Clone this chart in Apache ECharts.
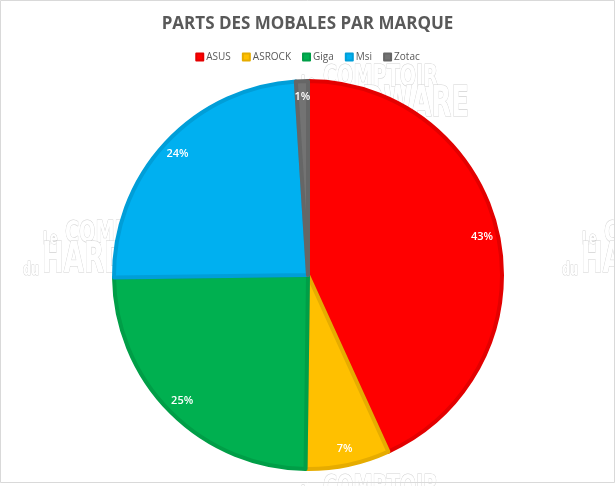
<!DOCTYPE html>
<html>
<head>
<meta charset="utf-8">
<script src="https://cdn.jsdelivr.net/npm/echarts@6/dist/echarts.min.js"></script>
<style>
html,body{margin:0;padding:0;background:#fff;}
#chart{width:615px;height:486px;}
</style>
</head>
<body>
<div id="chart"></div>
<script>
var titleText = 'PARTS DES MOBALES PAR MARQUE';
var categories = ['ASUS', 'ASROCK', 'Giga', 'Msi', 'Zotac'];
var shares = [43.2, 7.0, 24.6, 24.2, 1.0];
var fillColors = ['#FF0000', '#FFC000', '#00B050', '#00B0F0', '#737373'];
var borderColors = ['#E30000', '#E6AC00', '#009E47', '#009ED8', '#666666'];

var chart = echarts.init(document.getElementById('chart'), null, {renderer: 'canvas'});

var pieData = categories.map(function (c, i) {
  return {name: c, value: shares[i], itemStyle: {color: fillColors[i], borderColor: borderColors[i]}};
});
var labelData = categories.map(function (c, i) {
  return {name: c, value: shares[i]};
});

var wmFont = 'DejaVu Sans, sans-serif';
function wm(dx, dy) {
  var st = {fill: '#ffffff', stroke: '#d2d2d2', lineWidth: 1.1};
  function t(txt, x, y, size) {
    return {type: 'text', z: -5, x: dx + x, y: dy + y, scaleX: 0.62,
      style: Object.assign({text: txt, font: 'bold ' + size + 'px ' + wmFont, verticalAlign: 'top'}, st)};
  }
  return [
    t('Le', 43, 230, 18),
    t('COMPTOIR', 65, 218, 31),
    t('du', 23, 261, 18),
    t('HARDWARE', 42, 240, 42)
  ];
}
var graphics = [].concat(wm(0, 0), wm(539, 0), wm(258, -156), wm(258, 254));
graphics.push({type: 'rect', z: 10, shape: {x: 0.5, y: 0.5, width: 614, height: 482}, style: {fill: 'none', stroke: '#d9d9d9', lineWidth: 1}});

chart.setOption({
  animation: false,
  backgroundColor: '#ffffff',
  title: {
    text: titleText,
    left: 'center',
    top: 11,
    textStyle: {fontFamily: 'Open Sans', fontWeight: 'bold', fontSize: 17, color: '#595959'}
  },
  legend: {
    data: categories,
    top: 47,
    left: 'center',
    icon: 'rect',
    itemWidth: 7,
    itemHeight: 7,
    itemGap: 11,
    textStyle: {fontFamily: 'Open Sans', fontSize: 10, color: '#595959', padding: [0, 0, 0, -2]}
  },
  graphic: graphics,
  series: [
    {
      type: 'pie',
      center: [308, 275],
      radius: [0, 194],
      startAngle: 90,
      clockwise: true,
      silent: true,
      label: {show: false},
      labelLine: {show: false},
      itemStyle: {borderWidth: 4},
      data: pieData
    },
    {
      type: 'pie',
      center: [308, 275],
      radius: [154, 196],
      startAngle: 90,
      clockwise: true,
      silent: true,
      legendHoverLink: false,
      itemStyle: {color: 'rgba(0,0,0,0)'},
      label: {
        show: true,
        position: 'inside',
        formatter: function (p) { return Math.round(p.percent) + '%'; },
        color: '#ffffff',
        fontFamily: 'Open Sans',
        fontWeight: 600,
        fontSize: 11
      },
      labelLine: {show: false},
      data: labelData
    }
  ]
});
</script>
</body>
</html>
